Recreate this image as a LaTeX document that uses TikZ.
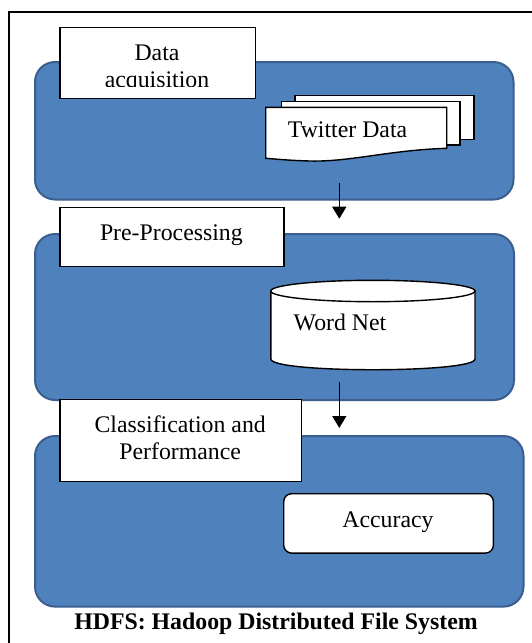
\documentclass[tikz,border=0pt]{standalone}
\usepackage{fontspec}
\setmainfont{Liberation Serif}
\usetikzlibrary{arrows.meta}
\definecolor{hblue}{HTML}{4F81BD}
\definecolor{hborder}{HTML}{3A5F8E}
\begin{document}
\begin{tikzpicture}[x=1pt,y=-1pt,
  stage/.style={fill=hblue,draw=hborder,line width=2pt,rounded corners=20pt,anchor=north west,inner sep=0pt},
  labelbox/.style={fill=white,draw=black,line width=1.4pt,anchor=north west,inner sep=0pt},
  sheet/.style={fill=white,draw=black,line width=1.4pt},
  txt/.style={font=\fontsize{23.8}{27.5}\selectfont,inner sep=0pt},
  flow/.style={line width=1.5pt,-{Triangle[width=14pt,length=12pt]}}]
\useasboundingbox (0,0) rectangle (532,643);
\fill[white] (0,0) rectangle (532,643);
% outer frame (only top and left visible)
\draw[line width=1.5pt] (9,643) -- (9,12) -- (532,12);

% stage backgrounds
\node[stage,minimum width=478.5pt,minimum height=137.5pt] (s1) at (34,61) {};
\node[stage,minimum width=479pt,minimum height=166pt] (s2) at (34,233) {};
\node[stage,minimum width=488.5pt,minimum height=170.6pt] (s3) at (34,435) {};

% label boxes
\node[labelbox,minimum width=195.1pt,minimum height=71.2pt] (l1) at (59.4,26.5) {};
\begin{scope}
  \clip (59.4,26.5) rectangle (254.5,86.5);
  \node[txt,anchor=base] (l1a) at (157,60.4) {Data};
  \node[txt,anchor=base] (l1b) at (157,87.9) {acquisition};
\end{scope}
\node[labelbox,minimum width=224pt,minimum height=59.2pt] (l2) at (59.4,206.8) {};
\node[txt,anchor=base] (l2a) at (171.4,240) {Pre-Processing};
\node[labelbox,minimum width=241.6pt,minimum height=82.1pt] (l3) at (59.4,398.7) {};
\node[txt,anchor=base] (l3a) at (180.2,432.6) {Classification and};
\node[txt,anchor=base] (l3b) at (180.2,459.7) {Performance};

% Twitter data (multi-document)
\draw[sheet] (295,95.7) rectangle (474,139.3);
\draw[sheet] (281.7,101.7) rectangle (460,145);
\draw[sheet] (265.7,107.3) -- (446.7,107.3) -- (446.7,148.3)
  .. controls (390,150) and (350,162) .. (310,161)
  .. controls (290,160.5) and (275,159) .. (265.7,158.3) -- cycle;
\node[txt,anchor=base west] (tw) at (287.7,137.3) {Twitter Data};

% Word Net cylinder
\draw[sheet] (270.8,291) -- (270.8,359)
  .. controls (270.8,373.3) and (475,373.3) .. (475,359) -- (475,291) -- cycle;
\draw[sheet] (372.9,291) ellipse [x radius=102.1, y radius=10.7];
\node[txt,anchor=base west] (wn) at (293.5,330) {Word Net};

% Accuracy
\node[labelbox,rounded corners=8pt,minimum width=209.7pt,minimum height=59.4pt] (acc) at (283,493) {};
\node[txt,anchor=base] (acct) at (388,527.6) {Accuracy};

% arrows
\coordinate (a1s) at (339.3,183);
\coordinate (a1e) at (339.3,218.7);
\coordinate (a2s) at (339.3,382);
\coordinate (a2e) at (339.3,428);
\draw[flow] (a1s) -- (a1e);
\draw[flow] (a2s) -- (a2e);

% caption
\node[txt,font=\fontsize{23.8}{27.5}\selectfont\bfseries,anchor=base] (cap) at (276,629.4) {HDFS: Hadoop Distributed File System};
\end{tikzpicture}
\end{document}
